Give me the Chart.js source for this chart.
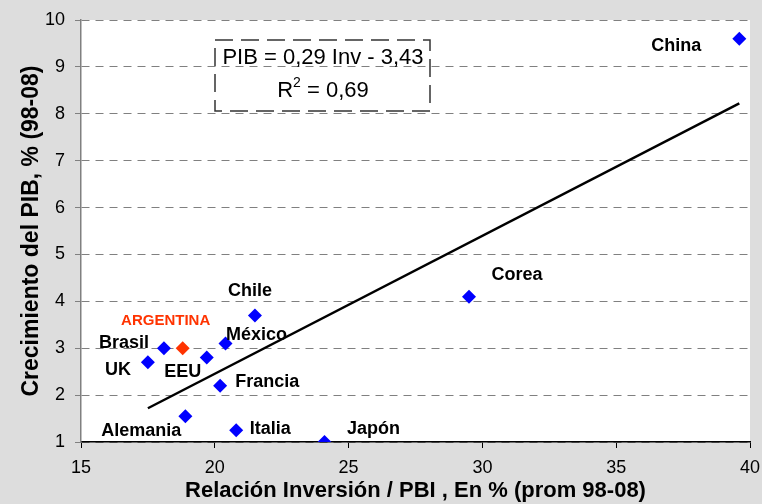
<!DOCTYPE html>
<html>
<head>
<meta charset="utf-8">
<script src="https://cdn.jsdelivr.net/npm/chart.js@4.4.0/dist/chart.umd.min.js"></script>
<style>
  html, body { margin: 0; padding: 0; background: #dddddd; }
  #wrap { width: 762px; height: 504px; }
</style>
</head>
<body>
<div id="wrap"><canvas id="grafico"></canvas></div>
<script>
// datos
const paises = ['China', 'Corea', 'Chile', 'México', 'ARGENTINA', 'Brasil', 'EEU', 'UK', 'Francia', 'Alemania', 'Italia', 'Japón'];
const inversion = [39.6, 29.5, 21.5, 20.4, 18.8, 18.1, 19.7, 17.5, 20.2, 18.9, 20.8, 24.1];
const crecimiento = [9.6, 4.1, 3.7, 3.1, 3.0, 3.0, 2.8, 2.7, 2.2, 1.55, 1.25, 1.0];
const tendenciaX = [17.5, 39.6];
const tendenciaY = [1.72, 8.22];
const ticksX = [15, 20, 25, 30, 35, 40];
const ticksY = [1, 2, 3, 4, 5, 6, 7, 8, 9, 10];

// desplazamiento de cada etiqueta respecto de su punto (px)
const offsets = [[-63, 7], [48, -22], [-5, -24], [31, -9], [-17, -27], [-40, -5], [-24, 14], [-30, 8], [47, -4], [-44, 15], [34, -1], [49, -13]];

const fondo = {
    id: 'fondo',
    beforeDraw(chart) {
        const { ctx, chartArea: a } = chart;
        ctx.save();
        ctx.fillStyle = '#dddddd';
        ctx.fillRect(0, 0, chart.width, chart.height);
        ctx.fillStyle = '#ffffff';
        ctx.fillRect(a.left, a.top, a.right - a.left, a.bottom - a.top);
        ctx.restore();
    }
};

const etiquetas = {
    id: 'etiquetas',
    afterDatasetsDraw(chart) {
        const ctx = chart.ctx;
        const meta = chart.getDatasetMeta(1);
        ctx.save();
        ctx.textAlign = 'center';
        ctx.textBaseline = 'middle';
        meta.data.forEach(function (p, i) {
            if (paises[i] === 'ARGENTINA') {
                ctx.fillStyle = '#ff3300';
                ctx.font = 'bold 15px "Liberation Sans", Arial, sans-serif';
            } else {
                ctx.fillStyle = '#000000';
                ctx.font = 'bold 18px "Liberation Sans", Arial, sans-serif';
            }
            ctx.fillText(paises[i], p.x + offsets[i][0], p.y + offsets[i][1]);
        });

        // recuadro de la ecuacion
        ctx.strokeStyle = '#333333';
        ctx.lineWidth = 1.5;
        ctx.setLineDash([18, 8]);
        ctx.strokeRect(215, 40, 215, 71);
        ctx.setLineDash([]);
        ctx.fillStyle = '#000000';
        ctx.font = '22px "Liberation Sans", Arial, sans-serif';
        ctx.fillText('PIB = 0,29 Inv - 3,43', 323, 58);
        ctx.textAlign = 'left';
        ctx.font = '22px "Liberation Sans", Arial, sans-serif';
        const w1 = ctx.measureText('R').width;
        ctx.font = '14px "Liberation Sans", Arial, sans-serif';
        const w2 = ctx.measureText('2').width;
        ctx.font = '22px "Liberation Sans", Arial, sans-serif';
        const w3 = ctx.measureText(' = 0,69').width;
        let x0 = 323 - (w1 + w2 + w3) / 2;
        ctx.fillText('R', x0, 91);
        ctx.font = '14px "Liberation Sans", Arial, sans-serif';
        ctx.fillText('2', x0 + w1, 83);
        ctx.font = '22px "Liberation Sans", Arial, sans-serif';
        ctx.fillText(' = 0,69', x0 + w1 + w2, 91);
        ctx.restore();
    }
};

const puntos = inversion.map((v, i) => ({ x: v, y: crecimiento[i] }));
const linea = tendenciaX.map((v, i) => ({ x: v, y: tendenciaY[i] }));

new Chart(document.getElementById('grafico'), {
    type: 'scatter',
    data: {
        datasets: [{
            type: 'line',
            data: linea,
            borderColor: '#000000',
            borderWidth: 2.5,
            pointRadius: 0,
            fill: false
        }, {
            data: puntos,
            pointStyle: 'rectRot',
            pointRadius: 7,
            pointHoverRadius: 7,
            pointBorderWidth: 0,
            pointBackgroundColor: paises.map(p => p === 'ARGENTINA' ? '#ff3300' : '#0000ff'),
            pointBorderColor: paises.map(p => p === 'ARGENTINA' ? '#ff3300' : '#0000ff')
        }]
    },
    options: {
        responsive: true,
        maintainAspectRatio: false,
        animation: false,
        layout: { padding: { top: 20, right: 12, left: 0, bottom: 0 } },
        plugins: {
            legend: { display: false },
            tooltip: { enabled: false }
        },
        scales: {
            x: {
                type: 'linear',
                min: 15,
                max: 40,
                afterFit(s) { s.height = 62; s.paddingLeft = 0; s.paddingRight = 0; },
                afterBuildTicks(s) { s.ticks = ticksX.map(v => ({ value: v })); },
                grid: { drawOnChartArea: false, drawTicks: true, tickLength: 6, color: '#000000' },
                border: { color: '#000000', width: 1.5 },
                ticks: { color: '#000000', padding: 9, font: { family: '"Liberation Sans", Arial', size: 18 } },
                title: {
                    display: true,
                    text: 'Relación Inversión / PBI , En % (prom 98-08)',
                    color: '#000000',
                    font: { family: '"Liberation Sans", Arial', size: 22, weight: 'bold' },
                    padding: { top: 0, bottom: 0 }
                }
            },
            y: {
                type: 'linear',
                min: 1,
                max: 10,
                afterFit(s) { s.width = 81; s.paddingTop = 0; s.paddingBottom = 0; },
                afterBuildTicks(s) { s.ticks = ticksY.map(v => ({ value: v })); },
                grid: { color: '#808080', lineWidth: 1, tickLength: 6, tickColor: '#808080' },
                border: { color: '#808080', width: 1.5, dash: [8, 6] },
                ticks: { color: '#000000', padding: 10, font: { family: '"Liberation Sans", Arial', size: 18 } },
                title: {
                    display: true,
                    text: 'Crecimiento del PIB, % (98-08)',
                    color: '#000000',
                    font: { family: '"Liberation Sans", Arial', size: 23, weight: 'bold' },
                    padding: { top: 18, bottom: 0 }
                }
            }
        }
    },
    plugins: [fondo, etiquetas]
});
</script>
</body>
</html>
